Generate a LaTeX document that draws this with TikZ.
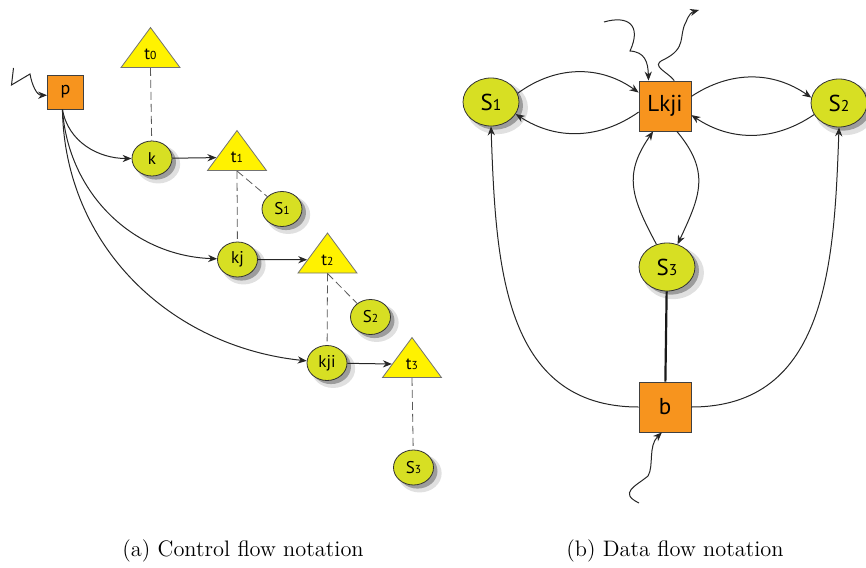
\documentclass[tikz,border=0pt]{standalone}
\usepackage{fontspec}
\newfontfamily\nodefont{PT Sans}
\usetikzlibrary{shapes.geometric,shadows,arrows.meta}
\definecolor{boxorange}{RGB}{247,148,30}
\definecolor{ballgreen}{RGB}{215,223,35}
\definecolor{triyellow}{RGB}{255,242,0}
\newcommand\dg[1]{\scalebox{0.68}{#1}}

\begin{document}
\begin{tikzpicture}[x=0.5pt,y=0.5pt,>={Stealth[length=4.5pt,width=3.6pt]},
  box/.style={draw=black!75,fill=boxorange,minimum width=18pt,minimum height=17pt,inner sep=0pt,
    font=\nodefont\fontsize{9}{10}\selectfont},
  ball/.style={ellipse,draw=black!80,fill=ballgreen,minimum width=20pt,minimum height=17.5pt,inner sep=0pt,
    general shadow={shadow xshift=2.8pt,shadow yshift=-2.6pt,shadow scale=1.1,fill=black,opacity=0.12},
    general shadow={shadow xshift=2pt,shadow yshift=-1.8pt,fill=black,opacity=0.3},
    font=\nodefont\fontsize{8.5}{10}\selectfont},
  tri/.style={isosceles triangle,isosceles triangle stretches,shape border rotate=90,draw=black!55,
    fill=triyellow,minimum width=29.5pt,minimum height=20pt,inner sep=0pt,
    font=\nodefont\fontsize{8.5}{10}\selectfont},
  big/.style={minimum width=28pt,minimum height=24pt,font=\nodefont\fontsize{11.5}{13}\selectfont},
  bigbox/.style={minimum width=26pt,minimum height=25pt,font=\nodefont\fontsize{11.5}{13}\selectfont},
  link/.style={dashed,dash pattern=on 4pt off 2pt,black!65},
  flow/.style={->,black!85,line width=0.5pt},
  caption/.style={font=\fontsize{11.2}{13}\selectfont}]
\useasboundingbox (0,0) rectangle (866,-567);

% (a) control flow
\node[box] (p) at (65.5,-92) {p};
\node[tri,anchor=apex] (t0) at (150.5,-26.5) {t\dg0};
\node[ball] (k) at (152,-158.5) {k};
\node[tri,anchor=apex] (t1) at (237,-129.5) {t\dg1};
\node[ball] (s1) at (282,-209) {S\dg1};
\node[ball] (kj) at (237.5,-259.5) {kj};
\node[tri,anchor=apex] (t2) at (327.5,-232) {t\dg2};
\node[ball] (s2) at (370.5,-317) {S\dg2};
\node[ball] (kji) at (327,-363) {kji};
\node[tri,anchor=apex] (t3) at (412,-336.5) {t\dg3};
\node[ball] (s3) at (413.5,-467.5) {S\dg3};

\draw[link] (t0.lower side) -- (k);
\draw[link] (t1.lower side) -- (s1);
\draw[link] (t1.lower side) -- (kj);
\draw[link] (t2.lower side) -- (s2);
\draw[link] (t2.lower side) -- (kji);
\draw[link] (t3.lower side) -- (s3);

\draw[flow] (k) -- (t1);
\draw[flow] (kj) -- (t2);
\draw[flow] (kji) -- (t3);

\draw[flow] (p.-100) to[out=-80,in=180] (k);
\draw[flow] (p.-100) to[out=-86,in=178] (kj);
\draw[flow] (p.-100) to[out=-89,in=174] (kji);

\coordinate (pin) at (13.5,-68);
\draw[flow] (pin) -- (11.5,-85) -- (30,-74) to[out=-80,in=180] (p.190);

% (b) data flow
\node[ball,big] (r1) at (491,-102) {S\dg1};
\node[box,bigbox] (lkji) at (665,-106) {Lkji};
\node[ball,big] (r2) at (839,-103) {S\dg2};
\node[ball,big] (r3) at (667,-267) {S\dg3};
\node[box,bigbox] (b) at (665,-407) {b};

\draw[flow] (r1.18) to[bend left=36] (lkji.153);
\draw[flow] (lkji.193) to[bend left=34] (r1.-26);
\draw[flow] (lkji.20) to[bend left=34] (r2.169);
\draw[flow] (r2.205) to[bend left=34] (lkji.-19);
\draw[flow] (lkji.-65) to[out=-50,in=65,looseness=1.2] (r3.65);
\draw[flow] (r3.115) to[out=118,in=-125,looseness=1.2] (lkji.-115);
\draw[black!90,line width=1.1pt] (r3) -- (b);
\draw[flow] (b.west) to[out=180,in=-88,looseness=1.1] (r1.south);
\draw[flow] (b.east) to[out=0,in=-92,looseness=1.1] (r2.south);

\coordinate (lin) at (604,-22);
\coordinate (lout) at (699,-10);
\coordinate (bin) at (639,-503);
\draw[flow] (lin) .. controls (628,-15) and (642,-25) .. (630,-51)
  .. controls (645,-52) and (648,-62) .. (lkji.123);
\draw[flow] (lkji.70) .. controls (668,-72) and (650,-66) .. (663,-60)
  .. controls (688,-48) and (678,-36) .. (686,-22) .. controls (689,-14) and (692,-12) .. (lout);
\draw[flow] (bin) .. controls (618,-493) and (636,-486) .. (648,-476)
  .. controls (654,-466) and (648,-446) .. (b.-97);

\node[caption] (capa) at (243,-551) {(a) Control flow notation};
\node[caption] (capb) at (675,-551) {(b) Data flow notation};
\end{tikzpicture}
\end{document}
